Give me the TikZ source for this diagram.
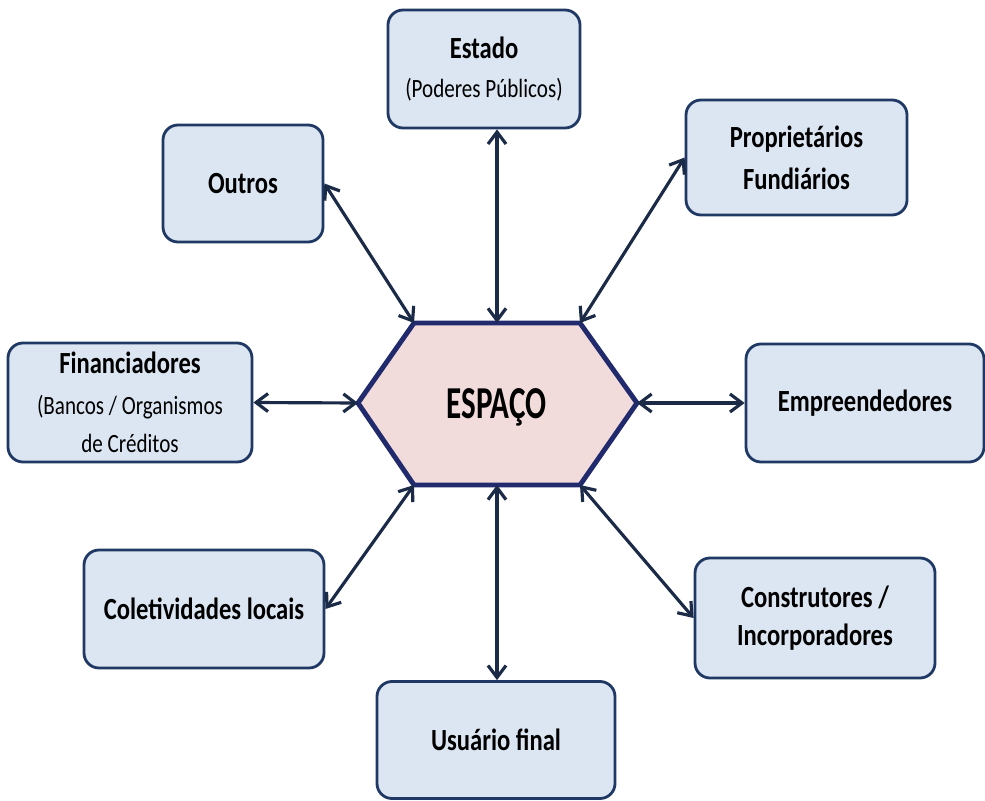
\documentclass[tikz,border=0pt]{standalone}
\usepackage{fontspec}
\setmainfont[FakeStretch=0.8]{Carlito}
\newfontfamily\hexfont[FakeStretch=0.68]{Carlito}
\usetikzlibrary{arrows.meta}
\definecolor{boxfill}{HTML}{DCE6F2}
\definecolor{boxline}{HTML}{1F3864}
\definecolor{hexfill}{HTML}{F2DCDB}
\definecolor{hexline}{HTML}{222A6E}
\definecolor{arrowcol}{HTML}{1B2A47}
\newcommand{\sublabel}[1]{{\fontsize{15}{21}\selectfont\mdseries #1}}
\begin{document}
\begin{tikzpicture}[agent/.style={rectangle, rounded corners=0.3cm, fill=boxfill, draw=boxline, line width=1.6pt, align=center, inner sep=0pt, font=\fontsize{17.5}{22}\selectfont\bfseries},
	link/.style={draw=arrowcol, line width=1.8pt, {Straight Barb[length=0.24cm,width=0.36cm]}-{Straight Barb[length=0.24cm,width=0.36cm]}},
	hexa/.style={fill=hexfill, draw=hexline, line width=2.8pt, line join=miter}]
			\useasboundingbox (0,0) rectangle (19.7,-16);
			\node[agent, minimum width=3.84cm, minimum height=2.36cm] (estado) at (9.68,-1.38) {Estado\\\sublabel{(Poderes Públicos)}};
			\node[agent, minimum width=3.2cm, minimum height=2.34cm] (outros) at (4.86,-3.67) {Outros};
			\node[agent, minimum width=4.42cm, minimum height=2.3cm] (propr) at (15.93,-3.15) {Proprietários\\[2pt]Fundiários};
			\node[agent, minimum width=4.88cm, minimum height=2.38cm] (financ) at (2.6,-8.05) {Financiadores\\[1pt]\sublabel{(Bancos / Organismos}\\\sublabel{de Créditos}};
			\node[agent, minimum width=4.76cm, minimum height=2.36cm] (empre) at (17.3,-8.06) {Empreendedores};
			\node[agent, minimum width=4.8cm, minimum height=2.36cm] (colet) at (4.08,-12.18) {Coletividades locais};
			\node[agent, minimum width=4.8cm, minimum height=2.4cm] (constr) at (16.3,-12.36) {Construtores /\\Incorporadores};
			\node[agent, minimum width=4.76cm, minimum height=2.34cm] (usuario) at (9.92,-14.8) {Usuário final};
			\coordinate (hex-w) at (7.16,-8.06);
			\coordinate (hex-nw) at (8.28,-6.46);
			\coordinate (hex-n) at (9.94,-6.46);
			\coordinate (hex-ne) at (11.6,-6.46);
			\coordinate (hex-e) at (12.74,-8.06);
			\coordinate (hex-se) at (11.6,-9.7);
			\coordinate (hex-s) at (9.94,-9.7);
			\coordinate (hex-sw) at (8.28,-9.7);
			\draw[hexa] (hex-w) -- (hex-nw) -- (hex-ne) -- (hex-e) -- (hex-se) -- (hex-sw) -- cycle;
			\node[anchor=base, font=\hexfont\fontsize{26}{30}\selectfont\bfseries] (espaco) at (9.93,-8.36) {ESPAÇO};
			\draw[link] (outros.east) -- (hex-nw);
			\draw[link] (hex-n |- estado.south) -- (hex-n);
			\draw[link] (propr.west) -- (hex-ne);
			\draw[link] (financ.east) -- (hex-w);
			\draw[link] (hex-e) -- (empre.west);
			\draw[link] (colet.east) -- (hex-sw);
			\draw[link] (hex-s) -- (hex-s |- usuario.north);
			\draw[link] (hex-se) -- (constr.west);
	\end{tikzpicture}
\end{document}
